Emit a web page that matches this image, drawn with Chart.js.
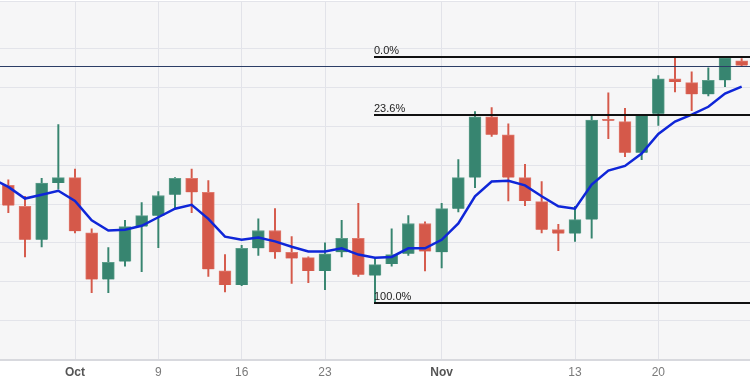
<!DOCTYPE html>
<html lang="en">
<head>
<meta charset="UTF-8">
<title>Daily candles with Fibonacci retracement</title>
<script src="https://cdn.jsdelivr.net/npm/chart.js"></script>
<style>
  html, body { margin: 0; padding: 0; background: #ffffff; }
  #chart { display: block; }
</style>
</head>
<body>
<canvas id="chart" width="750" height="386"></canvas>
<script>
// trading days (first one only feeds the moving average at the left edge)
const dates = [
  'Sep 25', 'Sep 26', 'Sep 27', 'Sep 28', 'Sep 29',
  'Oct 2', 'Oct 3', 'Oct 4', 'Oct 5', 'Oct 6',
  'Oct 9', 'Oct 10', 'Oct 11', 'Oct 12', 'Oct 13',
  'Oct 16', 'Oct 17', 'Oct 18', 'Oct 19', 'Oct 20',
  'Oct 23', 'Oct 24', 'Oct 25', 'Oct 26', 'Oct 27',
  'Oct 30', 'Oct 31', 'Nov 1', 'Nov 2', 'Nov 3',
  'Nov 6', 'Nov 7', 'Nov 8', 'Nov 9', 'Nov 10',
  'Nov 13', 'Nov 14', 'Nov 15', 'Nov 16', 'Nov 17',
  'Nov 20', 'Nov 21', 'Nov 22', 'Nov 23', 'Nov 24',
  'Nov 27'
];

const open = [null,
  0.6424, 0.6397, 0.6354, 0.6427, 0.6434, 0.6363, 0.6303, 0.6326, 0.6371, 0.6385,
  0.6412, 0.6433, 0.6415, 0.6314, 0.6296, 0.6343, 0.6366, 0.6338, 0.6331, 0.6314,
  0.6338, 0.6356, 0.6308, 0.6323, 0.6336, 0.6375, 0.6338, 0.6394, 0.6434, 0.6512,
  0.6489, 0.6434, 0.6403, 0.6367, 0.6362, 0.6380, 0.6509, 0.6506, 0.6466, 0.6516,
  0.6561, 0.6556, 0.6541, 0.6559, 0.6584];
const high = [null,
  0.6431, 0.6410, 0.6433, 0.6502, 0.6445, 0.6368, 0.6344, 0.6379, 0.6402, 0.6416,
  0.6434, 0.6445, 0.6430, 0.6335, 0.6347, 0.6381, 0.6394, 0.6358, 0.6332, 0.6350,
  0.6379, 0.6401, 0.6331, 0.6368, 0.6385, 0.6377, 0.6401, 0.6457, 0.6519, 0.6524,
  0.6503, 0.6451, 0.6429, 0.6374, 0.6397, 0.6514, 0.6543, 0.6523, 0.6515, 0.6565,
  0.6588, 0.6570, 0.6575, 0.6589, 0.6587];
const low = [null,
  0.6389, 0.6332, 0.6345, 0.6419, 0.6363, 0.6286, 0.6286, 0.6320, 0.6313, 0.6344,
  0.6394, 0.6389, 0.6307, 0.6287, 0.6295, 0.6334, 0.6330, 0.6298, 0.6299, 0.6290,
  0.6332, 0.6307, 0.6273, 0.6320, 0.6334, 0.6314, 0.6318, 0.6390, 0.6421, 0.6487,
  0.6404, 0.6398, 0.6363, 0.6340, 0.6352, 0.6356, 0.6484, 0.6461, 0.6457, 0.6501,
  0.6544, 0.6520, 0.6539, 0.6551, 0.6577];
const close = [null,
  0.6398, 0.6354, 0.6427, 0.6434, 0.6365, 0.6303, 0.6325, 0.6371, 0.6385, 0.6411,
  0.6433, 0.6415, 0.6316, 0.6296, 0.6343, 0.6366, 0.6338, 0.6330, 0.6314, 0.6336,
  0.6356, 0.6309, 0.6322, 0.6335, 0.6375, 0.6339, 0.6394, 0.6434, 0.6512, 0.6489,
  0.6434, 0.6404, 0.6367, 0.6362, 0.6380, 0.6508, 0.6507, 0.6466, 0.6515, 0.6561,
  0.6557, 0.6541, 0.6559, 0.6588, 0.6578];
const movingAvg = [0.6433,
  0.6422, 0.6407, 0.6412, 0.6417, 0.6404, 0.6379, 0.6366, 0.6367, 0.6372, 0.6383,
  0.6394, 0.6399, 0.6381, 0.6358, 0.6354, 0.6357, 0.6352, 0.6345, 0.6339, 0.6339,
  0.6343, 0.6335, 0.6331, 0.6332, 0.6343, 0.6343, 0.6354, 0.6375, 0.6410, 0.6429,
  0.6430, 0.6424, 0.6410, 0.6397, 0.6394, 0.6425, 0.6443, 0.6449, 0.6465, 0.6490,
  0.6506, 0.6515, 0.6525, 0.6542, 0.6551];

// x axis labels
const tickDates = ['Oct 2', 'Oct 9', 'Oct 16', 'Oct 23', 'Nov 1', 'Nov 13', 'Nov 20'];
const tickTexts = ['Oct', '9', '16', '23', 'Nov', '13', '20'];
const monthTicks = ['Oct', 'Nov'];

// fibonacci retracement from the Oct 26 low to the top
const fibStart = 'Oct 26';
const fibLevels = [0, 0.236, 1];
const fibTexts = ['0.0%', '23.6%', '100.0%'];

const UP = '#378570';
const DOWN = '#d5594a';
const UP_EDGE = '#5d9e8b';
const DOWN_EDGE = '#e07a6e';

const candleColor = open.map((o, i) => (close[i] >= o ? UP : DOWN));
const candleEdge = open.map((o, i) => (close[i] >= o ? UP_EDGE : DOWN_EDGE));
const bodies = open.map((o, i) => (o == null ? null : [o, close[i]]));
const wicks = low.map((l, i) => (l == null ? null : [l, high[i]]));

const swingHigh = Math.max(...high.filter(v => v != null));
const swingLow = Math.min(...low.filter(v => v != null));
const lastPrice = close[close.length - 1];

const overlay = {
  id: 'overlay',
  beforeDraw(chart) {
    const { ctx, chartArea: a } = chart;
    ctx.save();
    ctx.fillStyle = '#f6f6f7';
    ctx.fillRect(a.left, a.top, a.right - a.left, a.bottom - a.top);
    ctx.restore();
  },
  afterDatasetsDraw(chart) {
    const { ctx, chartArea: a, scales: { x, y } } = chart;
    ctx.save();
    // last price line
    const py = Math.round(y.getPixelForValue(lastPrice)) + 0.5;
    ctx.strokeStyle = '#2b3d66';
    ctx.lineWidth = 1;
    ctx.beginPath();
    ctx.moveTo(a.left, py);
    ctx.lineTo(a.right, py);
    ctx.stroke();

    // fib levels
    const x0 = Math.round(x.getPixelForValue(dates.indexOf(fibStart))) - 1;
    ctx.strokeStyle = '#111111';
    ctx.lineWidth = 2;
    ctx.fillStyle = '#222222';
    ctx.font = '11px "Liberation Sans", Arial, sans-serif';
    ctx.textBaseline = 'bottom';
    ctx.textAlign = 'left';
    fibLevels.forEach((lv, i) => {
      const val = swingHigh - (swingHigh - swingLow) * lv;
      const fy = Math.round(y.getPixelForValue(val));
      ctx.beginPath();
      ctx.moveTo(x0, fy);
      ctx.lineTo(a.right, fy);
      ctx.stroke();
      ctx.fillText(fibTexts[i], x0, fy - 1);
    });
    ctx.restore();
  }
};

const ctx = document.getElementById('chart').getContext('2d');

const chart = new Chart(ctx, {
  type: 'bar',
  data: {
    labels: dates,
    datasets: [
      {
        type: 'line',
        label: 'MA',
        data: movingAvg,
        borderColor: '#0f26d8',
        borderWidth: 2.5,
        pointRadius: 0,
        tension: 0,
        order: 0
      },
      {
        label: 'body',
        data: bodies,
        backgroundColor: candleColor,
        borderColor: candleEdge,
        borderWidth: 1,
        barThickness: 12,
        grouped: false,
        order: 1
      },
      {
        label: 'wick',
        data: wicks,
        backgroundColor: candleColor,
        borderWidth: 0,
        barThickness: 1.3,
        grouped: false,
        order: 2
      }
    ]
  },
  options: {
    responsive: false,
    animation: false,
    layout: { padding: { top: 1, left: 0, right: 0, bottom: 0 } },
    plugins: {
      legend: { display: false },
      tooltip: { enabled: false }
    },
    scales: {
      x: {
        type: 'category',
        min: 'Sep 26',
        offset: true,
        grid: {
          offset: false,
          drawTicks: false,
          color: c => (c.tick && tickDates.includes(dates[c.tick.value]) ? '#e2e3e9' : 'rgba(0,0,0,0)')
        },
        border: { color: '#d8d9de', width: 2 },
        ticks: {
          autoSkip: false,
          maxRotation: 0,
          padding: 6,
          callback: function (value) {
            const k = tickDates.indexOf(dates[value]);
            return k >= 0 ? tickTexts[k] : '';
          },
          color: c => (monthTicks.includes(c.tick.label) ? '#555555' : '#7a7a7a'),
          font: c => ({
            family: '"Liberation Sans", Arial, sans-serif',
            size: 12,
            weight: monthTicks.includes(c.tick.label) ? 'bold' : 'normal'
          })
        }
      },
      y: {
        min: 0.62,
        max: 0.6661,
        grid: { color: '#e3e4ea', drawTicks: false },
        border: { display: false },
        ticks: { display: false, stepSize: 0.005 }
      }
    }
  },
  plugins: [overlay]
});
</script>
</body>
</html>
